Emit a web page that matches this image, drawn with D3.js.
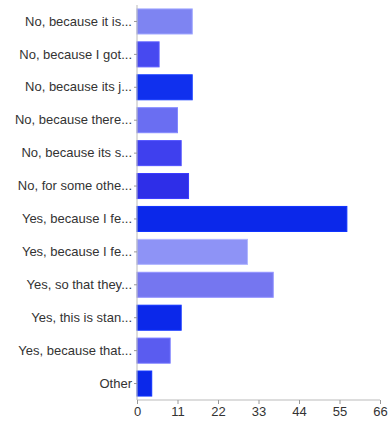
<!DOCTYPE html>
<html>
<head>
<meta charset="utf-8">
<script src="https://cdn.jsdelivr.net/npm/d3@7"></script>
<style>
  body { margin: 0; background: #fff; }
  svg { display: block; }
  text { font-family: "Liberation Sans", Arial, Helvetica, sans-serif; }
</style>
</head>
<body>
<svg id="chart" width="390" height="422"></svg>
<script>
const categories = [
  "No, because it is...",
  "No, because I got...",
  "No, because its j...",
  "No, because there...",
  "No, because its s...",
  "No, for some othe...",
  "Yes, because I fe...",
  "Yes, because I fe...",
  "Yes, so that they...",
  "Yes, this is stan...",
  "Yes, because that...",
  "Other"
];
const values = [15, 6, 15, 11, 12, 14, 57, 30, 37, 12, 9, 4];
const colors = ["#7e84f2", "#4749f0", "#1030ee", "#6a6ef2", "#3f40ee", "#2e2ee8",
                "#0b28ea", "#8e93f6", "#7576f0", "#0b28ea", "#5a5cf0", "#0b28ea"];
const tickValues = [0, 11, 22, 33, 44, 55, 66];

const svg = d3.select("#chart");
const margin = { left: 137, right: 10, top: 5, bottom: 22 };
const W = 390, H = 422;

const x = d3.scaleLinear().domain([0, 66]).range([margin.left, W - margin.right]);
const y = d3.scaleBand()
  .domain(d3.range(categories.length))
  .range([margin.top, H - margin.bottom])
  .paddingInner(0.24)
  .paddingOuter(0.12);

// bars
svg.append("g").selectAll("rect")
  .data(values)
  .join("rect")
  .attr("x", x(0))
  .attr("y", (d, i) => y(i))
  .attr("width", d => x(d) - x(0))
  .attr("height", y.bandwidth())
  .attr("fill", (d, i) => colors[i])
  .attr("stroke", (d, i) => d3.color(colors[i]).brighter(0.6))
  .attr("stroke-width", 1);

// y axis
const yAxis = d3.axisLeft(y)
  .tickFormat(i => categories[i])
  .tickSize(3)
  .tickPadding(2);
const gy = svg.append("g")
  .attr("transform", `translate(${x(0)},0)`)
  .call(yAxis);
gy.select(".domain").attr("stroke", "#bbb").attr("d", `M0,${margin.top}V${H - margin.bottom}`);
gy.selectAll(".tick line").attr("stroke", "#999");
gy.selectAll(".tick text").attr("fill", "#333").style("font-size", "13px");

// x axis
const xAxis = d3.axisBottom(x)
  .tickValues(tickValues)
  .tickSize(4)
  .tickPadding(3);
const gx = svg.append("g")
  .attr("transform", `translate(0,${H - margin.bottom})`)
  .call(xAxis);
gx.select(".domain").attr("stroke", "#bbb").attr("d", `M${x(0)},0H${x(66)}`);
gx.selectAll(".tick line").attr("stroke", "#999");
gx.selectAll(".tick text").attr("fill", "#333").style("font-size", "13px");
</script>
</body>
</html>
